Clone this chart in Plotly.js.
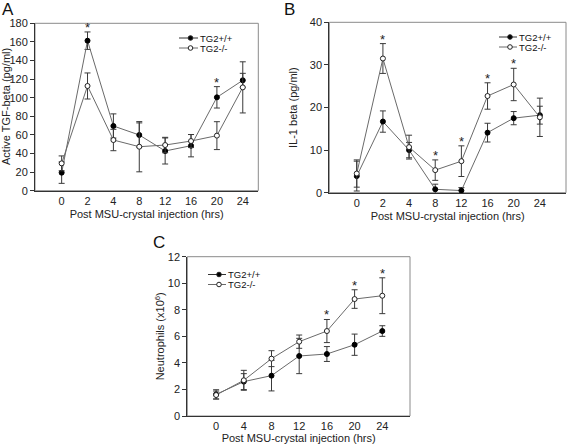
<!DOCTYPE html>
<html>
<head>
<meta charset="utf-8">
<script src="https://cdn.plot.ly/plotly-3.0.1.min.js"></script>
<style>
html,body{margin:0;padding:0;background:#fff;}
#chart{width:567px;height:444px;}
</style>
</head>
<body>
<div id="chart"></div>
<script>
// ---------- DATA ----------
var catsAB = ['0','2','4','8','12','16','20','24'];
var catsC  = ['0','4','8','12','16','20','24'];
var seriesNames = ['TG2+/+','TG2-/-'];
var xTitle = 'Post MSU-crystal injection (hrs)';
var yTitles = ['Active TGF-beta (pg/ml)', 'IL-1 beta (pg/ml)', 'Neutrophils (x10<sup>6</sup>)'];

// Panel A: Active TGF-beta (pg/ml)
var tgfWT      = [19.4, 161.3, 69.6, 59.9, 42.7, 48.4, 100.4, 118.7];
var tgfWTerr   = [11.5, 9.4, 13, 13, 14, 12, 11.5, 7.5];
var tgfKO      = [29.4, 112.6, 54.5, 47.3, 49.1, 53.4, 59.2, 111.1];
var tgfKOerr   = [8, 14, 11.5, 27, 8.3, 7, 15, 27.5];
var sigA       = ['2','20'];

// Panel B: IL-1 beta (pg/ml)
var il1WT      = [3.9, 16.7, 10.0, 0.8, 0.5, 14.1, 17.5, 18.2];
var il1WTerr   = [3.5, 2.5, 1.8, 1.2, 0.7, 2.2, 1.55, 2.1];
var il1KO      = [4.5, 31.5, 10.7, 5.3, 7.4, 22.7, 25.4, 17.7];
var il1KOerr   = [3.2, 3.5, 2.8, 2.4, 3.6, 3.1, 3.8, 4.5];
var sigB       = ['2','8','12','16','20'];

// Panel C: Neutrophils (x10^6)
var neuWT      = [1.63, 2.59, 3.04, 4.52, 4.67, 5.37, 6.4];
var neuWTerr   = [0.35, 0.6, 1.15, 1.33, 0.56, 0.8, 0.4];
var neuKO      = [1.58, 2.69, 4.32, 5.6, 6.4, 8.81, 9.06];
var neuKOerr   = [0.3, 0.75, 0.6, 0.5, 0.87, 0.7, 1.35];
var sigC       = ['16','20','24'];

// ---------- BUILD ----------
var W = 567, H = 444;
function px(x){ return x / W; }
function py(y){ return 1 - y / H; }
var FONT = 'Liberation Sans, Arial, sans-serif';
var lineCol = '#6a6a6a', errCol = '#3a3a3a';

function idx(cats){ return cats.map(function(_, i){ return i; }); }

function pair(cats, wt, wtErr, ko, koErr, xa, ya){
  var x = idx(cats);
  var base = {
    x: x, type: 'scatter', mode: 'lines+markers', xaxis: xa, yaxis: ya,
    showlegend: false, cliponaxis: false, line: {color: lineCol, width: 1}
  };
  var t1 = Object.assign({}, base, {
    y: wt, name: seriesNames[0],
    error_y: {type: 'data', array: wtErr, visible: true, color: errCol, thickness: 1, width: 3},
    marker: {symbol: 'circle', size: 5, color: '#000', line: {color: '#000', width: 1}}
  });
  var t2 = Object.assign({}, base, {
    y: ko, name: seriesNames[1],
    error_y: {type: 'data', array: koErr, visible: true, color: errCol, thickness: 1, width: 3},
    marker: {symbol: 'circle', size: 5, color: '#fff', line: {color: '#222', width: 1}}
  });
  return [t1, t2];
}

var data = []
  .concat(pair(catsAB, tgfWT, tgfWTerr, tgfKO, tgfKOerr, 'x', 'y'))
  .concat(pair(catsAB, il1WT, il1WTerr, il1KO, il1KOerr, 'x2', 'y2'))
  .concat(pair(catsC, neuWT, neuWTerr, neuKO, neuKOerr, 'x3', 'y3'));

function xax(domain, cats, range, yanchor){
  return {
    domain: domain, anchor: yanchor, range: range,
    tickmode: 'array', tickvals: idx(cats), ticktext: cats,
    showline: true, linecolor: '#333', linewidth: 1, ticks: '',
    showgrid: false, zeroline: false,
    tickfont: {family: FONT, size: 11, color: '#222'},
    title: {text: xTitle, font: {family: FONT, size: 11, color: '#222'}, standoff: 4}
  };
}
function yax(domain, range, dtick, xanchor){
  return {
    domain: domain, anchor: xanchor, range: range, dtick: dtick, tick0: 0,
    showline: true, linecolor: '#333', linewidth: 1, ticks: 'outside', ticklen: 4, tickcolor: '#333',
    showgrid: false, zeroline: false,
    tickfont: {family: FONT, size: 11, color: '#222'}
  };
}

var shapes = [], annotations = [];

// frames (top/right lighter)
[['x','y'],['x2','y2'],['x3','y3']].forEach(function(p){
  shapes.push({type: 'rect', xref: p[0] + ' domain', yref: p[1] + ' domain', x0: 0, x1: 1, y0: 0, y1: 1,
    line: {color: '#8a8a8a', width: 1}, layer: 'below'});
});

// y-axis titles (rotated)
[[yTitles[0], 6, 'y'], [yTitles[1], 293.5, 'y2'], [yTitles[2], 160, 'y3']].forEach(function(t){
  annotations.push({xref: 'paper', yref: t[2] + ' domain', x: px(t[1]), y: 0.5, xanchor: 'center', yanchor: 'middle',
    textangle: -90, text: t[0], showarrow: false, font: {family: FONT, size: 11, color: '#222'}});
});

// significance asterisks
function stars(cats, sig, wt, wtErr, ko, koErr, xa, ya){
  sig.forEach(function(c){
    var i = cats.indexOf(c);
    var top = Math.max(wt[i] + wtErr[i], ko[i] + koErr[i]);
    annotations.push({x: i, y: top, xref: xa, yref: ya, text: '*', showarrow: false,
      yanchor: 'bottom', yshift: -5, font: {family: FONT, size: 13, color: '#222'}});
  });
}
stars(catsAB, sigA, tgfWT, tgfWTerr, tgfKO, tgfKOerr, 'x', 'y');
stars(catsAB, sigB, il1WT, il1WTerr, il1KO, il1KOerr, 'x2', 'y2');
stars(catsC, sigC, neuWT, neuWTerr, neuKO, neuKOerr, 'x3', 'y3');

// manual legends
function legend(x0, x1, y, dy, textX){
  for (var k = 0; k < 2; k++){
    var yy = y + k * dy, cx = (x0 + x1) / 2 + 2, r = 2.3;
    shapes.push({type: 'line', xref: 'paper', yref: 'paper', x0: px(x0), x1: px(x1), y0: py(yy), y1: py(yy),
      line: {color: k === 0 ? '#333' : lineCol, width: 1}});
    shapes.push({type: 'circle', xref: 'paper', yref: 'paper', x0: px(cx - r), x1: px(cx + r), y0: py(yy + r), y1: py(yy - r),
      fillcolor: k === 0 ? '#000' : '#fff', line: {color: '#222', width: 1}});
    annotations.push({xref: 'paper', yref: 'paper', x: px(textX), y: py(yy), xanchor: 'left', yanchor: 'middle',
      text: seriesNames[k], showarrow: false, borderpad: 0, font: {family: FONT, size: 9.5, color: '#111'}});
  }
}
legend(179, 198, 38, 10, 199);
legend(499, 517, 37, 10, 517.5);
legend(208, 226, 274.5, 10, 226.5);

// panel letters
[['A', 8, 9], ['B', 289, 9], ['C', 158.5, 242]].forEach(function(l){
  annotations.push({xref: 'paper', yref: 'paper', x: px(l[1]), y: py(l[2]), xanchor: 'center', yanchor: 'middle',
    text: l[0], showarrow: false, font: {family: FONT, size: 17, color: '#111'}});
});

var layout = {
  width: W, height: H, margin: {l: 0, r: 0, t: 0, b: 0},
  paper_bgcolor: '#fff', plot_bgcolor: '#fff',
  showlegend: false, font: {family: FONT},
  xaxis:  xax([px(35), px(258.3)], catsAB, [-1.03, 7.6], 'y'),
  yaxis:  yax([py(190.7), py(23.3)], [0, 180], 20, 'x'),
  xaxis2: xax([px(329.3), px(566)], catsAB, [-1.05, 8.0], 'y2'),
  yaxis2: yax([py(192.7), py(22.3)], [0, 40], 10, 'x2'),
  xaxis3: xax([px(187.3), px(410)], catsC, [-1.04, 7.0], 'y3'),
  yaxis3: yax([py(416), py(256.7)], [0, 12], 2, 'x3'),
  shapes: shapes, annotations: annotations
};

Plotly.newPlot('chart', data, layout, {displayModeBar: false, staticPlot: true});
</script>
</body>
</html>
